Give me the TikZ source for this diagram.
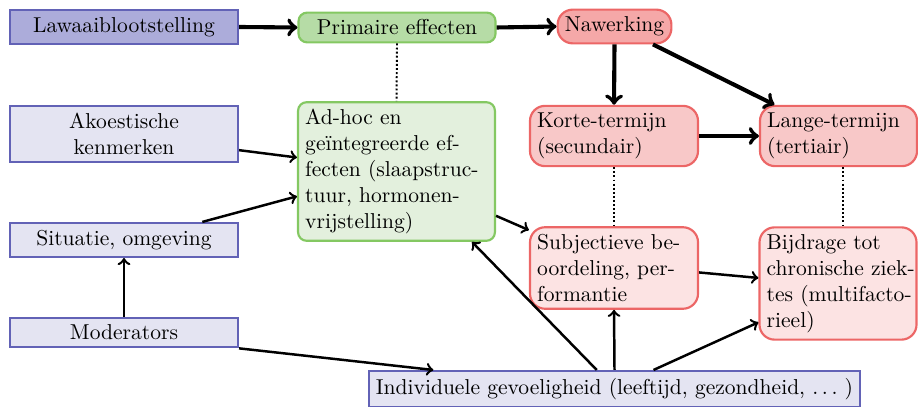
\documentclass[tikz,border=0pt]{standalone}
\usetikzlibrary{calc}
\definecolor{bluedraw}{RGB}{98,98,182}
\definecolor{bluedark}{RGB}{172,172,218}
\definecolor{bluelight}{RGB}{228,228,242}
\definecolor{greendraw}{RGB}{132,200,98}
\definecolor{greendark}{RGB}{182,220,166}
\definecolor{greenlight}{RGB}{227,240,221}
\definecolor{reddraw}{RGB}{236,102,102}
\definecolor{reddark}{RGB}{245,168,168}
\definecolor{redmid}{RGB}{248,200,200}
\definecolor{redlight}{RGB}{252,227,227}
\begin{document}
\begin{tikzpicture}[x=0.464pt,y=-0.464pt,
  box/.style={draw, line width=1pt, inner sep=3.33pt},
  bluebox/.style={box, draw=bluedraw, fill=bluelight, minimum width=105.8pt, align=center},
  greenbox/.style={box, draw=greendraw, rounded corners=4pt},
  redbox/.style={box, draw=reddraw, rounded corners=7pt},
  thickarrow/.style={->, line width=1.9pt},
  thinarrow/.style={->, line width=1.15pt},
  dotline/.style={densely dotted, line width=0.9pt}
]
\useasboundingbox (0,0) rectangle (918,407);

% left column
\node[bluebox, fill=bluedark] (law) at (124,27) {Lawaaiblootstelling};
\node[bluebox] (ako) at (124,134) {Akoestische\\kenmerken};
\node[bluebox] (sit) at (124,240) {Situatie, omgeving};
\node[bluebox] (mod) at (124,332.5) {Moderators};

% middle column
\node[greenbox, fill=greendark, minimum width=91.4pt] (prim) at (397,27.5) {Primaire effecten};
\node[greenbox, fill=greenlight, text width=84.7pt, align=left] (adh) at (396.5,171.5)
  {\mbox{Ad-hoc en}\\ \mbox{geïntegreerde ef-}\\ \mbox{fecten (slaapstruc-}\\ \mbox{tuur, hormonen-}\\ \mbox{vrijstelling)}};

% right columns
\node[redbox, fill=reddark] (naw) at (614.5,26.5) {Nawerking};
\node[redbox, fill=redmid, text width=71.3pt, align=left] (kor) at (614,136)
  {\mbox{Korte-termijn}\\ \mbox{(secundair)}};
\node[redbox, fill=redmid, text width=66.2pt, align=left] (lan) at (838.5,136)
  {\mbox{Lange-termijn}\\ \mbox{(tertiair)}};
\node[redbox, fill=redlight, text width=71.3pt, align=left] (sub) at (614,268)
  {\mbox{Subjectieve be-}\\ \mbox{oordeling, per-}\\ \mbox{formantie}};
\node[redbox, fill=redlight, text width=66.2pt, align=left] (bij) at (838,283.5)
  {\mbox{Bijdrage tot}\\ \mbox{chronische ziek-}\\ \mbox{tes (multifacto-}\\ \mbox{rieel)}};

% bottom
\node[box, draw=bluedraw, fill=bluelight] (ind) at (614.5,389)
  {Individuele gevoeligheid (leeftijd, gezondheid, $\ldots$\ )};

% thick arrows
\draw[thickarrow] (law.east) -- (prim.west);
\draw[thickarrow] (prim.east) -- (naw.west);
\draw[thickarrow] (naw.south) -- (kor.north);
\draw[thickarrow] (naw.-25) -- (lan.154);
\draw[thickarrow] (kor.east) -- (lan.west);

% dotted
\coordinate (lds) at ($(lan.south)+(4.5,0)$);
\draw[dotline] (prim.south) -- (adh.north);
\draw[dotline] (kor.south) -- (sub.north);
\draw[dotline] (lds) -- (lds |- bij.north);

% thin arrows
\draw[thinarrow] (ako.-8) -- (adh.172);
\draw[thinarrow] (sit.13.5) -- (adh.194);
\draw[thinarrow] (mod.north) -- (sit.south);
\draw[thinarrow] (mod.south east) -- (ind.174);
\draw[thinarrow] (adh.-24) -- (sub.156);
\draw[thinarrow] (ind.133) -- (adh.-43);
\draw[thinarrow] (ind.north) -- (sub.south);
\draw[thinarrow] (ind.26) -- (bij.206);
\draw[thinarrow] (sub.-3.4) -- (bij.176);
\end{tikzpicture}
\end{document}
